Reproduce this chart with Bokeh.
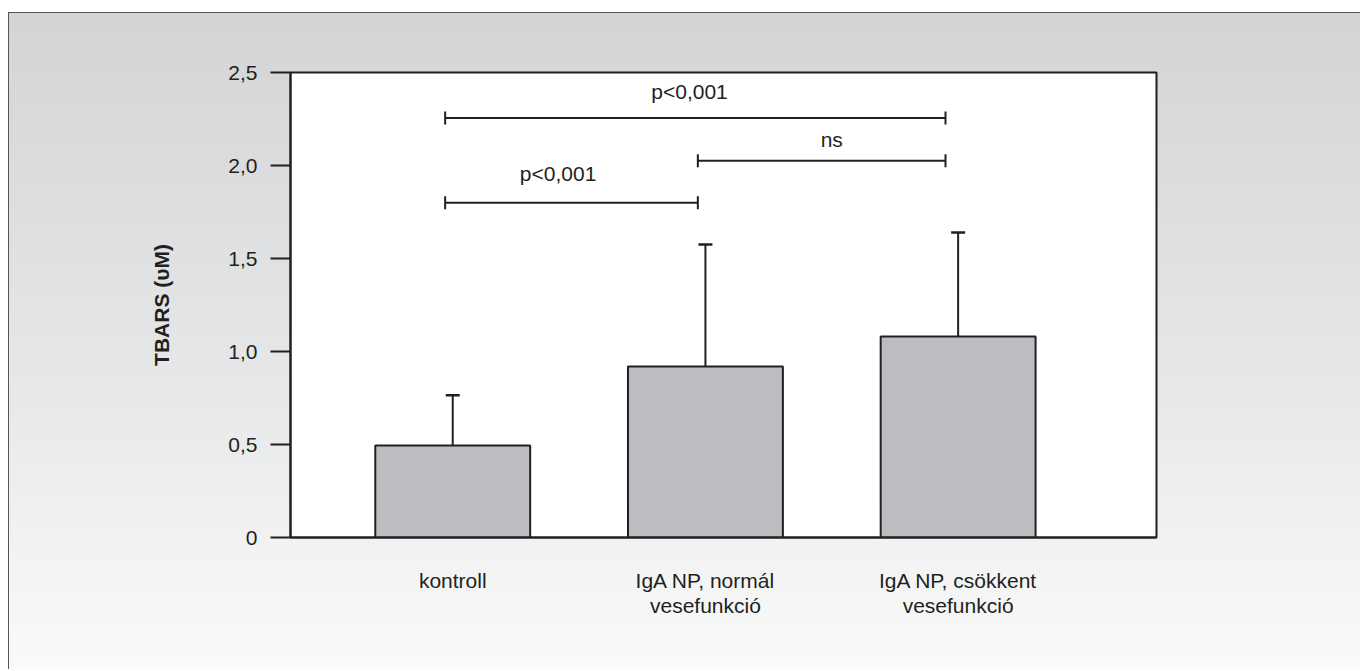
from bokeh.plotting import figure
from bokeh.models import (ColumnDataSource, Range1d, FixedTicker, Whisker, TeeHead)
from bokeh.core.properties import value
from bokeh.embed import file_html
from bokeh.resources import INLINE

# ---- data ----
categories = ["kontroll", "IgA NP, normál\nvesefunkció", "IgA NP, csökkent\nvesefunkció"]
means = [0.495, 0.92, 1.08]
upper_sd = [0.765, 1.575, 1.64]

y_ticks = [0, 0.5, 1.0, 1.5, 2.0, 2.5]
y_tick_labels = ["0", "0,5", "1,0", "1,5", "2,0", "2,5"]

bracket_labels = ["p<0,001", "ns", "p<0,001"]
bracket_start = [-0.03, 0.97, -0.03]
bracket_end = [1.95, 1.95, 0.97]
bracket_height = [2.255, 2.025, 1.80]
bracket_label_x = [0.937, 1.5, 0.417]
bracket_label_y = [2.40, 2.14, 1.955]

FONT = "Liberation Sans"
INK = "#231f20"

xs = list(range(len(categories)))
src = ColumnDataSource(dict(x=xs, top=means, up=upper_sd))
bsrc = ColumnDataSource(dict(x0=bracket_start, x1=bracket_end, h=bracket_height,
                             lx=bracket_label_x, ly=bracket_label_y, t=bracket_labels))

p = figure(width=1352, height=657, output_backend="svg", toolbar_location=None,
           x_range=Range1d(-0.642, 2.785), y_range=Range1d(0, 2.5),
           min_border_left=281, min_border_right=205, min_border_top=59, min_border_bottom=133)
p.styles = {"background": "linear-gradient(to bottom, #d3d4d6 0%, #e6e7e8 55%, #fafafa 100%)",
            "border-left": "1px solid #555555", "border-top": "1px solid #555555",
            "margin": "12px 0px 0px 8px"}
p.border_fill_color = None
p.background_fill_color = "white"
p.outline_line_color = INK
p.outline_line_width = 2
p.grid.visible = False

p.vbar(x="x", top="top", bottom=0, width=0.613, source=src,
       fill_color="#bcbdc1", line_color=INK, line_width=2)

p.add_layout(Whisker(source=src, base="x", lower="top", upper="up",
                     line_color=INK, line_width=2, lower_head=None,
                     upper_head=TeeHead(size=14, line_color=INK, line_width=2.5)))

p.add_layout(Whisker(source=bsrc, base="h", lower="x0", upper="x1", dimension="width",
                     line_color=INK, line_width=2,
                     lower_head=TeeHead(size=13, line_color=INK, line_width=2),
                     upper_head=TeeHead(size=13, line_color=INK, line_width=2)))

p.text(x="lx", y="ly", text="t", source=bsrc, text_align="center",
       text_baseline="alphabetic", text_font=value(FONT), text_font_size="21px",
       text_color=INK)

# y axis
ya = p.yaxis[0]
ya.ticker = FixedTicker(ticks=y_ticks)
ya.major_label_overrides = {t: l for t, l in zip(y_ticks, y_tick_labels)}
ya.minor_tick_line_color = None
ya.major_tick_in = 0
ya.major_tick_out = 20
ya.major_tick_line_width = 2
ya.major_tick_line_color = INK
ya.axis_line_width = 2
ya.axis_line_color = INK
ya.major_label_standoff = 13
ya.major_label_text_font = FONT
ya.major_label_text_font_size = "21px"
ya.major_label_text_color = INK
ya.axis_label = "TBARS (υM)"
ya.axis_label_text_font = FONT
ya.axis_label_text_font_style = "bold"
ya.axis_label_text_font_size = "21px"
ya.axis_label_text_color = INK
ya.axis_label_standoff = 52

# x axis
xa = p.xaxis[0]
xa.ticker = FixedTicker(ticks=xs)
xa.major_label_overrides = {i: c for i, c in zip(xs, categories)}
xa.major_tick_line_color = None
xa.minor_tick_line_color = None
xa.axis_line_width = 2
xa.axis_line_color = INK
xa.major_label_standoff = 25
xa.major_label_text_font = FONT
xa.major_label_text_font_size = "21px"
xa.major_label_text_line_height = 1.1
xa.major_label_text_color = INK

open("out.html", "w").write(file_html(p, INLINE))
